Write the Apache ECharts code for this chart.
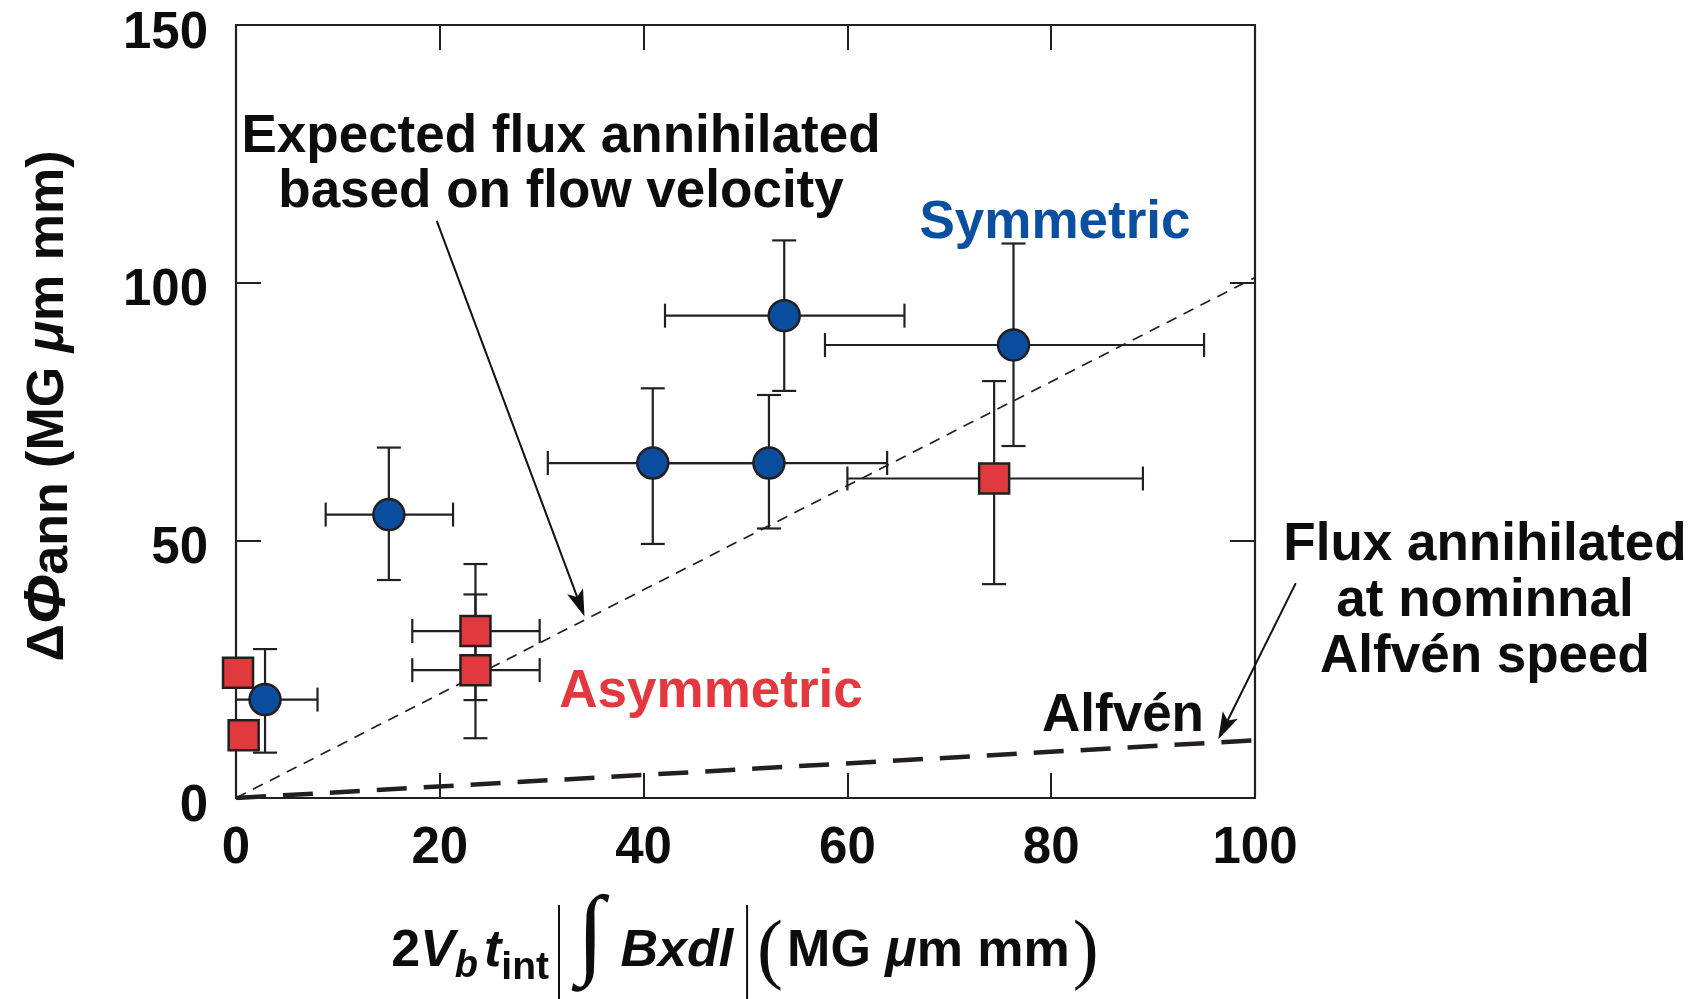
<!DOCTYPE html>
<html>
<head>
<meta charset="utf-8">
<script src="https://cdn.jsdelivr.net/npm/echarts@6/dist/echarts.min.js"></script>
<style>
html,body{margin:0;padding:0;background:#ffffff;}
#chart{width:1694px;height:999px;}
</style>
</head>
<body>
<div id="chart"></div>
<script>
// ---------------- data ----------------
const xTicks = [0, 20, 40, 60, 80, 100];
const xTickLabels = ['0', '20', '40', '60', '80', '100'];
const yTicks = [0, 50, 100, 150];
const yTickLabels = ['0', '50', '100', '150'];

// Symmetric (blue circles)
const symX     = [2.85, 15.0, 40.9, 52.3, 53.8, 76.3];
const symY     = [19.1, 55.0, 65.0, 65.0, 93.6, 87.9];
const symXLow  = [-2.3,  8.8, 30.6, 40.7, 42.1, 57.8];
const symXHigh = [ 8.0, 21.3, 51.2, 63.9, 65.6, 95.0];
const symYLow  = [ 8.8, 42.3, 49.3, 52.3, 79.0, 68.3];
const symYHigh = [28.9, 68.0, 79.5, 78.2, 108.2, 107.6];

// Asymmetric (red squares); null = no error bar drawn
const asymX     = [0.2, 0.75, 23.5, 23.5, 74.4];
const asymY     = [24.3, 12.2, 32.4, 24.8, 62.0];
const asymXLow  = [null, null, 17.3, 17.3, 60.0];
const asymXHigh = [null, null, 29.8, 29.8, 89.0];
const asymYLow  = [null, null, 19.0, 11.6, 41.5];
const asymYHigh = [null, null, 45.4, 39.5, 80.9];

// reference lines
const expectedLineX = [0, 100];
const expectedLineY = [0, 101];
const alfvenLineX = [0, 100];
const alfvenLineY = [0, 11.2];

// annotation arrows (data coordinates: [from], [to])
const arrowExpectedFrom = [19.7, 112.0];
const arrowExpectedTo   = [34.2, 35.2];
const arrowAlfvenFrom   = [104.0, 41.7];
const arrowAlfvenTo     = [96.4, 11.4];

// ---------------- styling ----------------
const F  = "'Liberation Sans', Arial, Helvetica, sans-serif";
const FS = "'Liberation Serif', 'Times New Roman', serif";
const INK = '#231f20';
const TXT = '#0d0d0d';
const BLUE = '#0a4d9e';
const RED = '#e0393e';

const mctx = document.createElement('canvas').getContext('2d');
function tw(font, t) { mctx.font = font; return mctx.measureText(t).width; }
function midOff(font) {
  mctx.font = font; mctx.textBaseline = 'middle';
  const m = mctx.measureText('H');
  mctx.textBaseline = 'alphabetic';
  return m.actualBoundingBoxDescent;
}

function zip(xs, ys) { return xs.map((x, i) => [x, ys[i]]); }
function errData(xs, ys, xl, xh, yl, yh) {
  const out = [];
  xs.forEach((x, i) => { if (xl[i] !== null) out.push([x, ys[i], xl[i], xh[i], yl[i], yh[i]]); });
  return out;
}

function errRender(params, api) {
  const x = api.value(0), y = api.value(1);
  const xl = api.value(2), xh = api.value(3), yl = api.value(4), yh = api.value(5);
  const cap = 12;
  const st = { stroke: INK, lineWidth: 2.2 };
  const a = api.coord([xl, y]), b = api.coord([xh, y]);
  const c = api.coord([x, yl]), d = api.coord([x, yh]);
  return {
    type: 'group',
    children: [
      { type: 'line', shape: { x1: a[0], y1: a[1], x2: b[0], y2: b[1] }, style: st },
      { type: 'line', shape: { x1: a[0], y1: a[1] - cap, x2: a[0], y2: a[1] + cap }, style: st },
      { type: 'line', shape: { x1: b[0], y1: b[1] - cap, x2: b[0], y2: b[1] + cap }, style: st },
      { type: 'line', shape: { x1: c[0], y1: c[1], x2: d[0], y2: d[1] }, style: st },
      { type: 'line', shape: { x1: c[0] - cap, y1: c[1], x2: c[0] + cap, y2: c[1] }, style: st },
      { type: 'line', shape: { x1: d[0] - cap, y1: d[1], x2: d[0] + cap, y2: d[1] }, style: st }
    ]
  };
}

const axisCommon = {
  type: 'value',
  axisLine: { show: true, onZero: false, lineStyle: { color: INK, width: 2.2 } },
  axisTick: { show: true, inside: true, length: 25, lineStyle: { color: INK, width: 2 } },
  splitLine: { show: false }
};

const chart = echarts.init(document.getElementById('chart'));

chart.setOption({
  animation: false,
  backgroundColor: '#ffffff',
  grid: { left: 236, top: 25, width: 1019, height: 773, containLabel: false },
  xAxis: [
    Object.assign({}, axisCommon, {
      min: 0, max: 100, interval: 20, position: 'bottom',
      axisLabel: {
        show: true, margin: 25, fontSize: 51, fontWeight: 'bold', fontFamily: F, color: TXT,
        formatter: v => { const i = xTicks.indexOf(v); return i >= 0 ? xTickLabels[i] : ''; }
      }
    }),
    Object.assign({}, axisCommon, {
      min: 0, max: 100, interval: 20, position: 'top', axisLabel: { show: false }
    })
  ],
  yAxis: [
    Object.assign({}, axisCommon, {
      min: 0, max: 150, interval: 50, position: 'left',
      axisLabel: {
        show: true, margin: 28, fontSize: 51, fontWeight: 'bold', fontFamily: F, color: TXT,
        verticalAlign: 'top', lineHeight: 17,
        formatter: v => { const i = yTicks.indexOf(v); return i >= 0 ? yTickLabels[i] : ''; }
      }
    }),
    Object.assign({}, axisCommon, {
      min: 0, max: 150, interval: 50, position: 'right', axisLabel: { show: false }
    })
  ],
  series: [
    {
      name: 'Expected', type: 'line', xAxisIndex: 0, yAxisIndex: 0,
      data: zip(expectedLineX, expectedLineY), symbol: 'none', silent: true, z: 1,
      lineStyle: { color: INK, width: 1.7, type: [11, 8] }
    },
    {
      name: 'Alfvén', type: 'line', xAxisIndex: 0, yAxisIndex: 0,
      data: zip(alfvenLineX, alfvenLineY), symbol: 'none', silent: true, z: 1,
      lineStyle: { color: INK, width: 4.5, type: [30, 17], cap: 'butt' }
    },
    {
      name: 'SymErr', type: 'custom', renderItem: errRender, clip: true, z: 3, silent: true,
      data: errData(symX, symY, symXLow, symXHigh, symYLow, symYHigh)
    },
    {
      name: 'AsymErr', type: 'custom', renderItem: errRender, clip: true, z: 3, silent: true,
      data: errData(asymX, asymY, asymXLow, asymXHigh, asymYLow, asymYHigh)
    },
    {
      name: 'Symmetric', type: 'scatter', data: zip(symX, symY), symbol: 'circle', symbolSize: 31, z: 5,
      itemStyle: { color: BLUE, borderColor: INK, borderWidth: 2.5, opacity: 1 }
    },
    {
      name: 'Asymmetric', type: 'scatter', data: zip(asymX, asymY), symbol: 'rect', symbolSize: 30, z: 5,
      itemStyle: { color: RED, borderColor: INK, borderWidth: 2.5, opacity: 1 }
    }
  ]
});

// ---------------- annotations ----------------
const graphic = [];
function addLines(lines, x, baseline, lh, font, color) {
  lines.forEach((t, i) => {
    graphic.push({
      type: 'text', x: x, y: baseline + i * lh - midOff(font), z: 100,
      style: { text: t, font: font, fill: color, align: 'center', textAlign: 'center',
               verticalAlign: 'middle', textVerticalAlign: 'middle' }
    });
  });
}
const AF = "bold 53px " + F;
addLines(['Expected flux annihilated', 'based on flow velocity'], 561, 152, 55, AF, TXT);
addLines(['Symmetric'], 1055, 238, 0, AF, '#0b4fa1');
addLines(['Asymmetric'], 711, 707, 0, AF, '#e2383e');
addLines(['Alfvén'], 1123, 731, 0, AF, TXT);
addLines(['Flux annihilated', 'at nominnal', 'Alfvén speed'], 1485, 560, 56, AF, TXT);

function addArrow(fromD, toD) {
  const p = chart.convertToPixel({ gridIndex: 0 }, fromD);
  const q = chart.convertToPixel({ gridIndex: 0 }, toD);
  const dx = q[0] - p[0], dy = q[1] - p[1];
  const L = Math.sqrt(dx * dx + dy * dy);
  const ux = dx / L, uy = dy / L, nx = -uy, ny = ux;
  const hl = 27, hw = 8.5, notch = 6;
  const bx = q[0] - ux * hl, by = q[1] - uy * hl;
  graphic.push({
    type: 'line', z: 100, shape: { x1: p[0], y1: p[1], x2: bx + ux * notch, y2: by + uy * notch },
    style: { stroke: '#111', lineWidth: 2 }
  });
  graphic.push({
    type: 'polygon', z: 100,
    shape: { points: [[q[0], q[1]], [bx + nx * hw, by + ny * hw], [bx + ux * notch, by + uy * notch], [bx - nx * hw, by - ny * hw]] },
    style: { fill: '#111' }
  });
}
addArrow(arrowExpectedFrom, arrowExpectedTo);
addArrow(arrowAlfvenFrom, arrowAlfvenTo);

// ---------------- axis titles ----------------
function buildRow(pieces, color) {
  let x = 0;
  const children = [];
  pieces.forEach(p => {
    if (p.gap !== undefined) { x += p.gap; return; }
    if (p.bar) {
      children.push({ type: 'line', shape: { x1: x, y1: p.bar[0], x2: x, y2: p.bar[1] },
                      style: { stroke: '#111', lineWidth: 2 } });
      return;
    }
    children.push({
      type: 'text', x: x, y: (p.dy || 0) - midOff(p.font),
      style: { text: p.t, font: p.font, fill: color, align: 'left', textAlign: 'left',
               verticalAlign: 'middle', textVerticalAlign: 'middle' }
    });
    x += tw(p.font, p.t);
  });
  return { children, width: x };
}

const XB = 'bold 52px ' + F, XBI = 'italic bold 52px ' + F;
const PAREN = '78px ' + FS;
const xTitle = buildRow([
  { t: '2', font: XB },
  { t: 'V', font: XBI },
  { t: 'b', font: 'italic bold 38px ' + F, dy: 11 },
  { gap: 6 },
  { t: 't', font: XBI },
  { t: 'int', font: 'bold 39px ' + F, dy: 13 },
  { gap: 10 },
  { bar: [-61, 33] },
  { gap: 18 },
  { t: '∫', font: 'italic 100px ' + FS, dy: 0 },
  { gap: 16 },
  { t: 'Bxdl', font: XBI },
  { gap: 14 },
  { bar: [-61, 33] },
  { gap: 10 },
  { t: '(', font: PAREN, dy: 9 },
  { gap: 4 },
  { t: 'MG ', font: XB },
  { t: 'μ', font: XBI },
  { t: 'm mm', font: XB },
  { gap: 3 },
  { t: ')', font: PAREN, dy: 9 }
], TXT);
graphic.push({ type: 'group', x: 745 - xTitle.width / 2, y: 966, z: 100, children: xTitle.children });

const YB = 'bold 52px ' + F;
const yTitle = buildRow([
  { t: 'Δ', font: YB },
  { t: 'Φ', font: 'italic bold 60px ' + F, dy: 2 },
  { t: 'ann', font: YB, dy: 4 },
  { t: ' (MG ', font: YB },
  { t: 'μ', font: 'italic bold 52px ' + F },
  { t: 'm mm)', font: YB }
], TXT);
graphic.push({ type: 'group', x: 63, y: 406 + yTitle.width / 2, rotation: Math.PI / 2, z: 100, children: yTitle.children });

chart.setOption({ graphic: graphic });
</script>
</body>
</html>
